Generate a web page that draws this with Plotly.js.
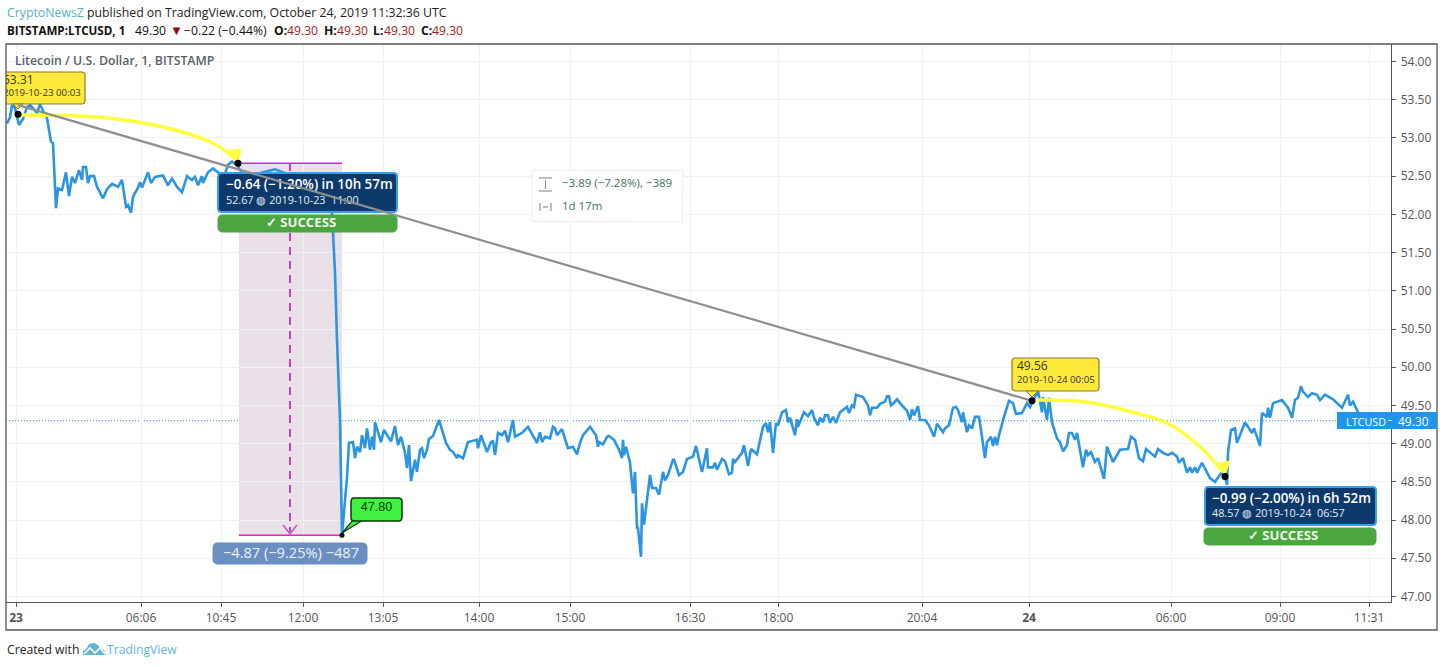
<!DOCTYPE html>
<html><head><meta charset="utf-8">
<script src="https://cdn.plot.ly/plotly-3.0.1.min.js"></script>
<style>html,body{margin:0;padding:0;background:#fff}#chart{width:1444px;height:667px}</style>
</head><body><div id="chart"></div>
<script>
// ---------- DATA ----------
const barIndex = [7,10,12,15,19,23,27,30,37,40,44,47,51,53,56,58,62,66,69,72,75,79,82,83,86,88,90,94,97,103,107,112,118,122,126,128,131,133,138,140,142,145,148,151,155,163,168,172,177,182,187,192,195,198,202,203,208,213,218,224,228,232,237,240,246,253,263,275,285,296,310,325,330,332,333,335,337,339,340,342,
347,349,353,355,357,360,362,365,367,370,372,374,375,381,384,391,395,398,401,405,407,409,411,415,417,420,422,424,427,429,433,439,443,446,450,453,457,458,463,468,477,478,481,487,491,493,495,498,502,505,508,513,515,522,528,537,540,542,545,550,553,555,557,560,562,566,568,573,577,580,583,590,596,598,599,603,607,609,614,619,622,623,624,626,630,633,635,637,638,641,642,644,650,652,656,659,663,665,668,673,674,679,
683,687,693,696,702,707,708,713,715,717,722,725,729,732,733,735,742,744,748,751,757,763,766,768,770,773,776,778,782,786,788,790,795,797,798,804,808,812,814,818,820,823,825,828,830,833,836,840,847,849,852,854,856,863,868,870,872,877,880,885,887,889,891,893,897,902,907,910,912,914,918,920,925,929,934,937,943,945,949,953,956,958,962,963,967,969,972,975,979,982,985,987,991,993,995,997,999,1004,1009,1013,1016,1022,1027,1030,
1038,1042,1043,1047,1049,1052,1057,1060,1063,1067,1069,1072,1075,1077,1083,1086,1088,1091,1095,1098,1101,1104,1107,1113,1120,1128,1131,1135,1139,1143,1146,1155,1158,1163,1168,1172,1177,1179,1183,1187,1190,1192,1195,1197,1202,1210,1215,1222,1225,1227,1228,1231,1235,1237,1245,1252,1254,1260,1262,1267,1268,1270,1273,1282,1288,1292,1295,1298,1301,1303,1308,1312,1317,1320,1325,1333,1342,1348,1350,1353,1358,1364,1368];
const closePrice = [53.19,53.27,53.43,53.39,53.17,53.25,53.40,53.43,53.33,53.44,53.33,53.26,52.95,52.93,52.08,52.34,52.32,52.55,52.24,52.49,52.41,52.58,52.45,52.62,52.62,52.41,52.50,52.50,52.36,52.21,52.33,52.40,52.36,52.45,52.10,52.12,52.02,52.23,52.35,52.42,52.35,52.45,52.55,52.41,52.49,52.51,52.38,52.47,52.36,52.29,52.50,52.45,52.49,52.38,52.50,52.41,52.55,52.60,52.55,52.49,52.65,52.69,52.65,52.58,52.48,52.51,52.55,52.59,52.54,52.50,52.53,52.49,52.42,52.03,51.80,51.24,50.36,49.57,49.31,47.80,
48.56,49.01,49.02,48.81,48.96,48.89,49.11,48.94,49.20,48.92,49.09,48.92,49.28,49.02,49.18,49.03,49.23,48.98,49.09,48.88,48.68,48.98,48.51,48.79,48.63,48.92,48.94,48.81,48.92,49.06,49.10,49.31,49.15,49.01,48.92,48.89,48.81,48.85,48.81,49.02,49.05,48.94,49.11,48.89,49.02,49.03,48.85,49.14,49.11,49.17,49.02,49.31,49.09,49.14,49.22,49.01,49.15,49.02,49.09,49.07,49.22,49.20,49.11,49.15,49.19,49.02,48.94,48.96,48.86,49.01,49.11,49.22,49.11,48.96,49.02,48.99,49.09,49.10,49.05,48.92,48.81,49.05,48.85,48.96,48.75,48.35,48.63,47.90,47.90,47.52,48.22,47.94,48.59,48.42,48.42,48.33,48.63,48.52,48.59,48.79,48.79,48.59,
48.63,48.80,48.83,48.97,48.63,48.94,48.69,48.69,48.75,48.66,48.80,48.77,48.60,48.62,48.80,48.76,48.88,48.98,48.71,48.93,48.86,49.22,49.27,49.15,49.28,48.88,49.27,49.24,49.41,49.44,49.28,49.34,49.11,49.32,49.22,49.41,49.36,49.44,49.34,49.24,49.34,49.28,49.37,49.37,49.27,49.35,49.27,49.41,49.48,49.40,49.50,49.48,49.64,49.61,49.50,49.37,49.47,49.47,49.52,49.55,49.62,49.62,49.50,49.52,49.58,49.50,49.43,49.31,49.45,49.37,49.49,49.31,49.31,49.24,49.09,49.26,49.15,49.20,49.24,49.47,49.48,49.44,49.28,49.41,49.15,49.24,49.20,49.35,49.35,49.09,48.81,49.02,49.09,48.97,49.09,48.98,49.11,49.35,49.56,49.53,49.39,49.40,49.53,49.48,
49.69,49.41,49.61,49.31,49.60,49.28,49.07,49.02,48.90,48.98,49.14,49.14,49.05,49.14,48.69,48.92,48.85,48.89,48.76,48.81,48.69,48.54,48.96,48.76,48.92,48.93,49.09,49.05,48.81,48.77,48.93,48.83,48.93,48.88,48.85,48.88,48.83,48.75,48.81,48.62,48.69,48.62,48.69,48.62,48.75,48.55,48.50,48.63,48.58,48.46,48.88,49.18,49.20,49.01,49.28,49.14,49.20,48.97,49.40,49.35,49.47,49.34,49.53,49.57,49.47,49.34,49.57,49.60,49.75,49.68,49.61,49.66,49.64,49.57,49.64,49.58,49.47,49.64,49.50,49.55,49.41,49.34,49.30];
const xTickBars = [16,141,221,303,383,479,570,690,778,922,1029,1171,1280,1369];
const xTickText = ['<b>23</b>','06:06','10:45','12:00','13:05','14:00','15:00','16:30','18:00','20:04','<b>24</b>','06:00','09:00','11:31'];
const yTickVals = [47,47.5,48,48.5,49,49.5,50,50.5,51,51.5,52,52.5,53,53.5,54];
const lastPrice = 49.30;
const trendBars = [18,1032], trendPrices = [53.43,49.56];
const pointBars = [18,238,1032,1225], pointPrices = [53.31,52.67,49.56,48.57];
const curve1Bars = [20,100,167,213,237], curve1Prices = [53.30,53.27,53.13,52.93,52.71];
const curve2Bars = [1037,1083,1133,1167,1200,1223], curve2Prices = [49.57,49.55,49.41,49.27,48.96,48.63];
const rangeBars = [239,342], rangeTop = 52.67, rangeBottom = 47.80;

// ---------- helpers ----------
const FONT = '"Open Sans", sans-serif';
const pxY = y => 54 - (y - 61.5) / 76.43;           // canvas y -> price
const fx = x => (x - 6) / 1385, fy = y => (602 - y) / 558; // canvas -> paper
function box(x0, y0, x1, y1, r, fill, line, lw) {
  const xs = [], ys = [];
  const corners = [[x0+r,y0+r,180],[x1-r,y0+r,270],[x1-r,y1-r,0],[x0+r,y1-r,90]];
  corners.forEach(c => { for (let k = 0; k <= 4; k++) { const a = (c[2] + k * 22.5) * Math.PI / 180;
    xs.push(c[0] + r * Math.cos(a)); ys.push(pxY(c[1] + r * Math.sin(a))); } });
  xs.push(xs[0]); ys.push(ys[0]);
  return {x: xs, y: ys, mode: 'lines', fill: 'toself', fillcolor: fill, line: {color: line, width: lw}, hoverinfo: 'skip', showlegend: false};
}
function poly(pts, fill, line, lw) {
  const p = pts.concat([pts[0]]);
  return {x: p.map(a => a[0]), y: p.map(a => pxY(a[1])), mode: 'lines', fill: 'toself', fillcolor: fill, line: {color: line, width: lw || 1}, hoverinfo: 'skip', showlegend: false};
}
function seg(xs, ys, color, width, dash) {
  return {x: xs, y: ys.map(pxY), mode: 'lines', line: {color: color, width: width, dash: dash || 'solid'}, hoverinfo: 'skip', showlegend: false};
}
function label(x, y, text, size, color, pos, family, weight) {
  return {x: [x], y: [pxY(y)], mode: 'text', text: [text], textposition: pos || 'middle right',
    textfont: {size: size, color: color, family: family || FONT, weight: weight || 'normal'}, hoverinfo: 'skip', showlegend: false};
}
const YEL = '#ffe93b', YELB = '#8a7a2e', NAVY = '#0e3a6b', SKY = '#35a0ea', GRN = '#4ca640', CURVE = '#ffff3d';

const traces = [
  {x: barIndex, y: closePrice, mode: 'lines', name: 'LTCUSD', line: {color: '#2c95e2', width: 2.6, shape: 'linear'}, hoverinfo: 'skip', showlegend: false},
  // price range drawing
  {x: rangeBars, y: [rangeTop, rangeTop], mode: 'lines', line: {color: '#e81fd0', width: 1.5}, hoverinfo: 'skip', showlegend: false},
  {x: rangeBars, y: [rangeBottom, rangeBottom], mode: 'lines', line: {color: '#e81fd0', width: 1.5}, hoverinfo: 'skip', showlegend: false},
  seg([290,290],[163,532],'#c940bf',2,'8px,6px'),
  seg([283,290,297],[525,534,525],'#d050c8',1.5),
  // stats panel
  box(532,170,683,222,1,'#ffffff','#eceef1',1),
  seg([539,552],[178,178],'#8a958f',1.2), seg([539,552],[191,191],'#8a958f',1.2), seg([545.5,545.5],[180,189],'#8a958f',1.2),
  seg([540,540],[203,211],'#8a958f',1.2), seg([551,551],[203,211],'#8a958f',1.2), seg([543,548],[207,207],'#8a958f',1.2),
  label(562,184,'\u22123.89 (\u22127.28%), \u2212389',11.5,'#3f7458'),
  label(562,207,'1d 17m',11.5,'#3f7458'),
  // callouts for 47.80 and percent label
  box(213,543,367,564,4,'#6c8fc2','#6c8fc2',1),
  label(291,554,'\u22124.87 (\u22129.25%) \u2212487',14.6,'#edf2fa','middle center'),
  poly([[342,533],[353,520],[363,520]],'#3ff23f','#0a3a0a',1.2),
  box(351,498,402,521,3,'#3ff23f','#0a3a0a',1.5),
  label(376.5,508,'47.80',12.5,'#063a06','middle center','"Liberation Sans", sans-serif'),
  // yellow callouts
  box(-47,72,85,104,3,YEL,YELB,1.2),
  poly([[13,104],[18,109],[23,104]],YEL,YELB,1),
  label(3,81,'53.31',12,'#333'),
  label(3,94,'2019-10-23 00:03',9.7,'#333'),
  box(1012,358,1099,391,3,YEL,YELB,1.2),
  poly([[1026,391],[1032,397],[1038,391]],YEL,YELB,1),
  label(1017,367,'49.56',12,'#333'),
  label(1017,381,'2019-10-24 00:05',9.7,'#333'),
  // yellow curves + heads
  {x: curve1Bars, y: curve1Prices, mode: 'lines', line: {color: CURVE, width: 3.5, shape: 'spline'}, hoverinfo: 'skip', showlegend: false},
  poly([[226,151],[241,149],[238,162]],CURVE,CURVE,1),
  {x: curve2Bars, y: curve2Prices, mode: 'lines', line: {color: CURVE, width: 3.5, shape: 'spline'}, hoverinfo: 'skip', showlegend: false},
  poly([[1215,464],[1230,461],[1225,475]],CURVE,CURVE,1),
  // first forecast panel
  box(218,173,397,212,3,NAVY,SKY,2),
  label(226,185.5,'\u22120.64 (\u22121.20%) in 10h 57m',13.4,'#ffffff','middle right',FONT,600),
  label(226,201,'52.67 \u25CD 2019-10-23  11:00',10.8,'#e6eef6'),
  box(218,215,397,232,4,GRN,GRN,1),
  label(301,224,'\u2713 SUCCESS',13.2,'#eef8ea','middle center',FONT,700),
  // second forecast panel
  box(1205,487,1376,525,3,NAVY,SKY,2),
  label(1212,499.5,'\u22120.99 (\u22122.00%) in 6h 52m',13.4,'#ffffff','middle right',FONT,600),
  label(1212,514,'48.57 \u25CD 2019-10-24  06:57',10.8,'#e6eef6'),
  box(1204,528,1376,545,4,GRN,GRN,1),
  label(1283,537,'\u2713 SUCCESS',13.2,'#eef8ea','middle center',FONT,700),
  // trend line and points on top
  {x: trendBars, y: trendPrices, mode: 'lines', line: {color: '#8f8f8f', width: 2.2}, hoverinfo: 'skip', showlegend: false},
  {x: pointBars, y: pointPrices, mode: 'markers', marker: {color: '#000', size: 7}, hoverinfo: 'skip', showlegend: false},
  {x: [342], y: [rangeBottom], mode: 'markers', marker: {color: '#000', size: 5}, hoverinfo: 'skip', showlegend: false}
];

const shapes = [
  {type:'rect',xref:'x',yref:'y',x0:rangeBars[0],x1:rangeBars[1],y0:rangeBottom,y1:rangeTop,fillcolor:'#e9e0e8',line:{width:0},layer:'below'},
  {type:'line',xref:'paper',yref:'y',x0:0,x1:1,y0:lastPrice,y1:lastPrice,line:{color:'#2a96ea',width:1,dash:'1px,2px'},layer:'below'},
  // outer frame
  {type:'rect',xref:'paper',yref:'paper',x0:fx(6),x1:fx(1437),y0:fy(630),y1:fy(44),line:{color:'#555',width:1.3},fillcolor:'rgba(0,0,0,0)',layer:'above'},
  // last-price tag
  {type:'rect',xref:'paper',yref:'paper',x0:fx(1337),x1:fx(1437),y0:fy(429),y1:fy(412),line:{width:0},fillcolor:'#2196e8',layer:'above'},
  {type:'line',xref:'paper',yref:'paper',x0:fx(1388),x1:fx(1392),y0:fy(420.5),y1:fy(420.5),line:{color:'#cfe8fb',width:1},layer:'above'},
  // logo
  {type:'path',xref:'paper',yref:'paper',layer:'above',fillcolor:'#5fb6d9',line:{width:0},
   path:'M'+[[83,655],[83,651],[87,648],[89,644],[94,643],[98,645],[100,648],[104,650],[106,655]].map(p=>fx(p[0])+','+fy(p[1])).join('L')+'Z'},
  {type:'path',xref:'paper',yref:'paper',layer:'above',line:{color:'#ffffff',width:1.6},
   path:'M'+[[84,654],[90,648],[95,653],[100,648],[105,654]].map(p=>fx(p[0])+','+fy(p[1])).join('L')}
];

const ann = (x, y, text, size, color, anchor, family) => ({xref:'paper',yref:'paper',x:fx(x),y:fy(y),text:text,showarrow:false,
  xanchor:anchor||'left',yanchor:'middle',font:{size:size,color:color,family:family||FONT},borderpad:0,align:'left'});
const RED = '#a51c1c';
const annotations = [
  ann(6,13,'<span style="color:#55b3cb">CryptoNewsZ</span> published on TradingView.com, October 24, 2019 11:32:36 UTC',12.3,'#222'),
  ann(6,30,'<b>BITSTAMP:LTCUSD, 1</b>',11.6,'#111'),
  ann(134,30,'49.30',12.2,'#111'),
  ann(168.5,30,'\u25BC',13,'#8b1010'),
  ann(183,30,'\u22120.22 (\u22120.44%)',12.2,'#111'),
  ann(273,30,'<b>O:</b>',12.2,'#111'), ann(286,30,'49.30',12.2,RED),
  ann(323,30,'<b>H:</b>',12.2,'#111'), ann(336,30,'49.30',12.2,RED),
  ann(372,30,'<b>L:</b>',12.2,'#111'), ann(383,30,'49.30',12.2,RED),
  ann(420,30,'<b>C:</b>',12.2,'#111'), ann(431,30,'49.30',12.2,RED),
  ann(1365.5,421,'LTCUSD',10.8,'#ffffff','center'),
  ann(1413.5,421,'49.30',12,'#ffffff','center'),
  ann(6,649,'Created with',12.2,'#222'),
  ann(106,649,'TradingView',12.2,'#5fb6d9')
];

const layout = {
  width:1444, height:667, paper_bgcolor:'#ffffff', plot_bgcolor:'#ffffff',
  margin:{l:6,r:53,t:44,b:65,pad:0}, showlegend:false, hovermode:false,
  title:{text:'Litecoin / U.S. Dollar, 1, BITSTAMP',x:15/1444,xanchor:'left',y:1-61/667,yanchor:'middle',
    font:{size:12.3,color:'#5a5f66',family:FONT,weight:600}},
  font:{family:FONT},
  xaxis:{range:[6,1391],tickmode:'array',tickvals:xTickBars,ticktext:xTickText,showgrid:true,gridcolor:'#eff2f5',gridwidth:1,
    ticks:'outside',ticklen:4,tickcolor:'#555',tickfont:{size:12,color:'#555',family:FONT},showline:true,linecolor:'#555',linewidth:1.3,zeroline:false,fixedrange:true},
  yaxis:{side:'right',range:[46.928,54.229],tickmode:'array',tickvals:yTickVals,tickformat:'.2f',showgrid:true,gridcolor:'#eff2f5',gridwidth:1,ticklabelstandoff:2,
    ticks:'outside',ticklen:4,tickcolor:'#555',tickfont:{size:12,color:'#555',family:FONT},showline:true,linecolor:'#555',linewidth:1.3,zeroline:false,fixedrange:true},
  shapes:shapes, annotations:annotations
};
Plotly.newPlot('chart',traces,layout,{displayModeBar:false,responsive:false,staticPlot:true});
</script></body></html>
